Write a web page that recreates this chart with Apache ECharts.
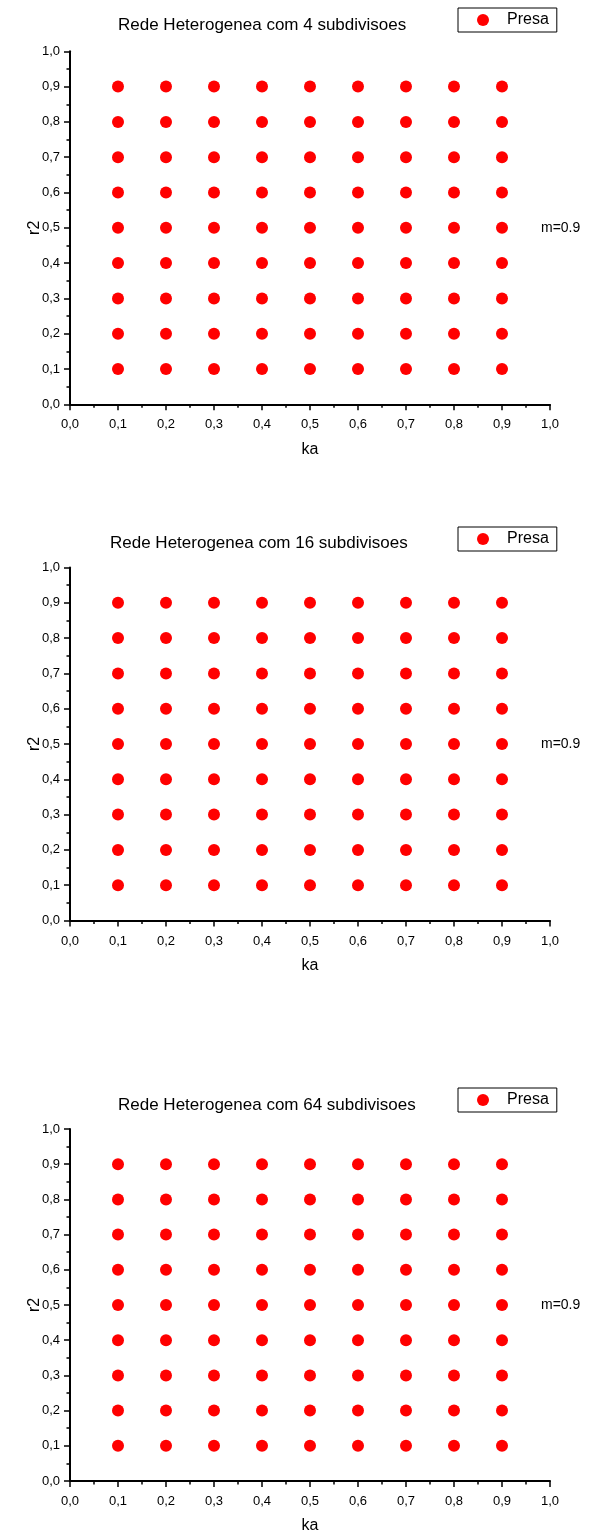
<!DOCTYPE html>
<html>
<head>
<meta charset="utf-8">
<script src="https://cdn.jsdelivr.net/npm/echarts@6/dist/echarts.min.js"></script>
<style>
html,body{margin:0;padding:0;background:#fff;}
#c{width:593px;height:1535px;}
</style>
</head>
<body>
<div id="c"></div>
<script>
// ---- data ----
const panelTitles = ['Rede Heterogenea com 4 subdivisoes', 'Rede Heterogenea com 16 subdivisoes', 'Rede Heterogenea com 64 subdivisoes'];
const seriesName = 'Presa';
const kaValues = [0.1, 0.2, 0.3, 0.4, 0.5, 0.6, 0.7, 0.8, 0.9];
const r2Values = [0.1, 0.2, 0.3, 0.4, 0.5, 0.6, 0.7, 0.8, 0.9];
const annotation = 'm=0.9';
const xAxisName = 'ka';
const yAxisName = 'r2';
const axisMin = 0.0, axisMax = 1.0, axisStep = 0.1;

// ---- layout ----
const FONT = '"Liberation Sans", Arial, sans-serif';
const gridTops = [51.3, 567.5, 1129];
const gridH = 353;
const titleLeft = [118, 110, 118];
const titleY = [27, 544.5, 1106.5];
const legendTop = [8, 527, 1088];
const annY = [229, 745, 1306];

const fmt = v => v.toFixed(1).replace('.', ',');

const grids = [], xAxes = [], yAxes = [], series = [], legends = [], graphics = [];
panelTitles.forEach((t, i) => {
  grids.push({left: 70, width: 480, top: gridTops[i], height: gridH});
  const axisCommon = {
    type: 'value', min: axisMin, max: axisMax, interval: axisStep, gridIndex: i,
    axisLine: {show: true, onZero: false, lineStyle: {color: '#000', width: 2}},
    axisTick: {show: true, inside: false, length: 6, lineStyle: {color: '#000', width: 1.5}},
    minorTick: {show: true, splitNumber: 2, length: 3.5, lineStyle: {color: '#000', width: 1.5}},
    splitLine: {show: false},
    axisLabel: {formatter: fmt, color: '#000', fontFamily: FONT, fontSize: 13},
    nameLocation: 'middle',
    nameMoveOverlap: false,
    nameTextStyle: {color: '#000', fontFamily: FONT, fontSize: 16}
  };
  xAxes.push(Object.assign({}, axisCommon, {
    position: 'bottom', name: xAxisName, nameGap: 37, nameMoveOverlap: true,
    axisLabel: Object.assign({}, axisCommon.axisLabel, {margin: 14})
  }));
  yAxes.push(Object.assign({}, axisCommon, {
    position: 'left', name: yAxisName, nameGap: 27, nameRotate: 90,
    axisLabel: Object.assign({}, axisCommon.axisLabel, {margin: 10})
  }));
  const pts = [];
  kaValues.forEach(x => r2Values.forEach(y => pts.push([x, y])));
  series.push({
    type: 'scatter', name: seriesName, xAxisIndex: i, yAxisIndex: i,
    symbol: 'circle', symbolSize: 12, itemStyle: {color: '#ff0000', opacity: 1},
    data: pts, silent: true
  });
  legends.push({
    data: [{name: seriesName, icon: 'circle'}],
    left: 458, top: legendTop[i], orient: 'horizontal',
    padding: [4, 8, 4, 19], itemWidth: 12, itemHeight: 12,
    borderColor: '#000', borderWidth: 1, selectedMode: false,
    textStyle: {color: '#000', fontFamily: FONT, fontSize: 16, lineHeight: 16, padding: [0, 0, 0, 13]}
  });
  graphics.push({
    type: 'text', left: titleLeft[i], top: titleY[i] - 10,
    style: {text: t, fill: '#000', font: '17px ' + FONT}
  });
  graphics.push({
    type: 'text', left: 541, top: annY[i] - 8,
    style: {text: annotation, fill: '#000', font: '14px ' + FONT}
  });
});

const chart = echarts.init(document.getElementById('c'), null, {renderer: 'canvas'});
chart.setOption({
  animation: false,
  backgroundColor: '#fff',
  grid: grids, xAxis: xAxes, yAxis: yAxes, series: series, legend: legends,
  graphic: graphics
});
</script>
</body>
</html>
